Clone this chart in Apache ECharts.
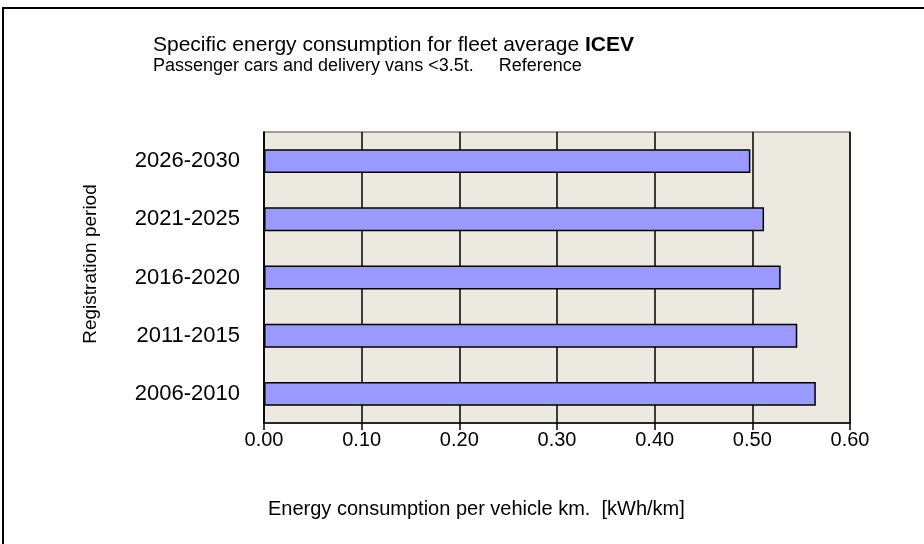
<!DOCTYPE html>
<html>
<head>
<meta charset="utf-8">
<script src="https://cdn.jsdelivr.net/npm/echarts@6/dist/echarts.min.js"></script>
<style>
  html, body { margin: 0; padding: 0; background: #fff; }
  #chart { width: 924px; height: 544px; }
</style>
</head>
<body>
<div id="chart"></div>
<script>
// registration periods, bottom to top as ECharts draws a category y axis
const periods = ['2006-2010', '2011-2015', '2016-2020', '2021-2025', '2026-2030']
const consumption = [0.565, 0.546, 0.529, 0.512, 0.498]
const xTicks = [0, 0.1, 0.2, 0.3, 0.4, 0.5, 0.6]

const font = 'Liberation Sans, Arial, sans-serif'

const chart = echarts.init(document.getElementById('chart'))

chart.setOption({
  animation: false,
  backgroundColor: '#fff',
  textStyle: { fontFamily: font },
  title: {
    left: 148,
    top: 28,
    itemGap: 3,
    text: '{a|Specific energy consumption for fleet average }{b|ICEV}',
    subtext: 'Passenger cars and delivery vans <3.5t.     Reference',
    textStyle: {
      fontWeight: 'normal',
      rich: {
        a: { fontFamily: font, fontSize: 21, fontWeight: 'normal', color: '#000', lineHeight: 24 },
        b: { fontFamily: font, fontSize: 21, fontWeight: 'bold', color: '#000', lineHeight: 24 },
      },
    },
    subtextStyle: { fontFamily: font, fontSize: 18, color: '#000' },
  },
  grid: {
    left: 264,
    right: 74,
    top: 132,
    bottom: 121,
    show: true,
    backgroundColor: '#ECE9E0',
    borderColor: '#7f7f7f',
    borderWidth: 1.5,
  },
  xAxis: {
    type: 'value',
    min: xTicks[0],
    max: xTicks[xTicks.length - 1],
    interval: 0.1,
    axisLine: { show: true, lineStyle: { color: '#000', width: 1.5 } },
    axisTick: { show: true, length: 7, lineStyle: { color: '#000', width: 1.5 } },
    axisLabel: {
      color: '#000',
      fontSize: 20,
      margin: 7,
      formatter: v => v.toFixed(2),
    },
    splitLine: { show: true, lineStyle: { color: '#000', width: 1.5 } },
  },
  yAxis: {
    type: 'category',
    data: periods,
    axisLine: { show: true, lineStyle: { color: '#000', width: 1.5 } },
    axisTick: { show: false },
    axisLabel: { color: '#000', fontSize: 22, margin: 24 },
  },
  series: [
    {
      type: 'bar',
      data: consumption,
      barCategoryGap: '59%',
      itemStyle: { color: '#9999FF', borderColor: '#000', borderWidth: 1.5 },
    },
  ],
  graphic: [
    {
      type: 'rect',
      shape: { x: 3, y: 8, width: 1000, height: 1000 },
      style: { fill: null, stroke: '#000', lineWidth: 2 },
      silent: true,
    },
    {
      type: 'text',
      x: 91,
      y: 264,
      rotation: Math.PI / 2,
      style: {
        text: 'Registration period',
        font: '19px ' + font,
        fill: '#000',
        align: 'center',
        verticalAlign: 'middle',
      },
    },
    {
      type: 'text',
      left: 268,
      top: 499,
      style: {
        text: 'Energy consumption per vehicle km.  [kWh/km]',
        font: '20px ' + font,
        fill: '#000',
      },
    },
  ],
})
</script>
</body>
</html>
